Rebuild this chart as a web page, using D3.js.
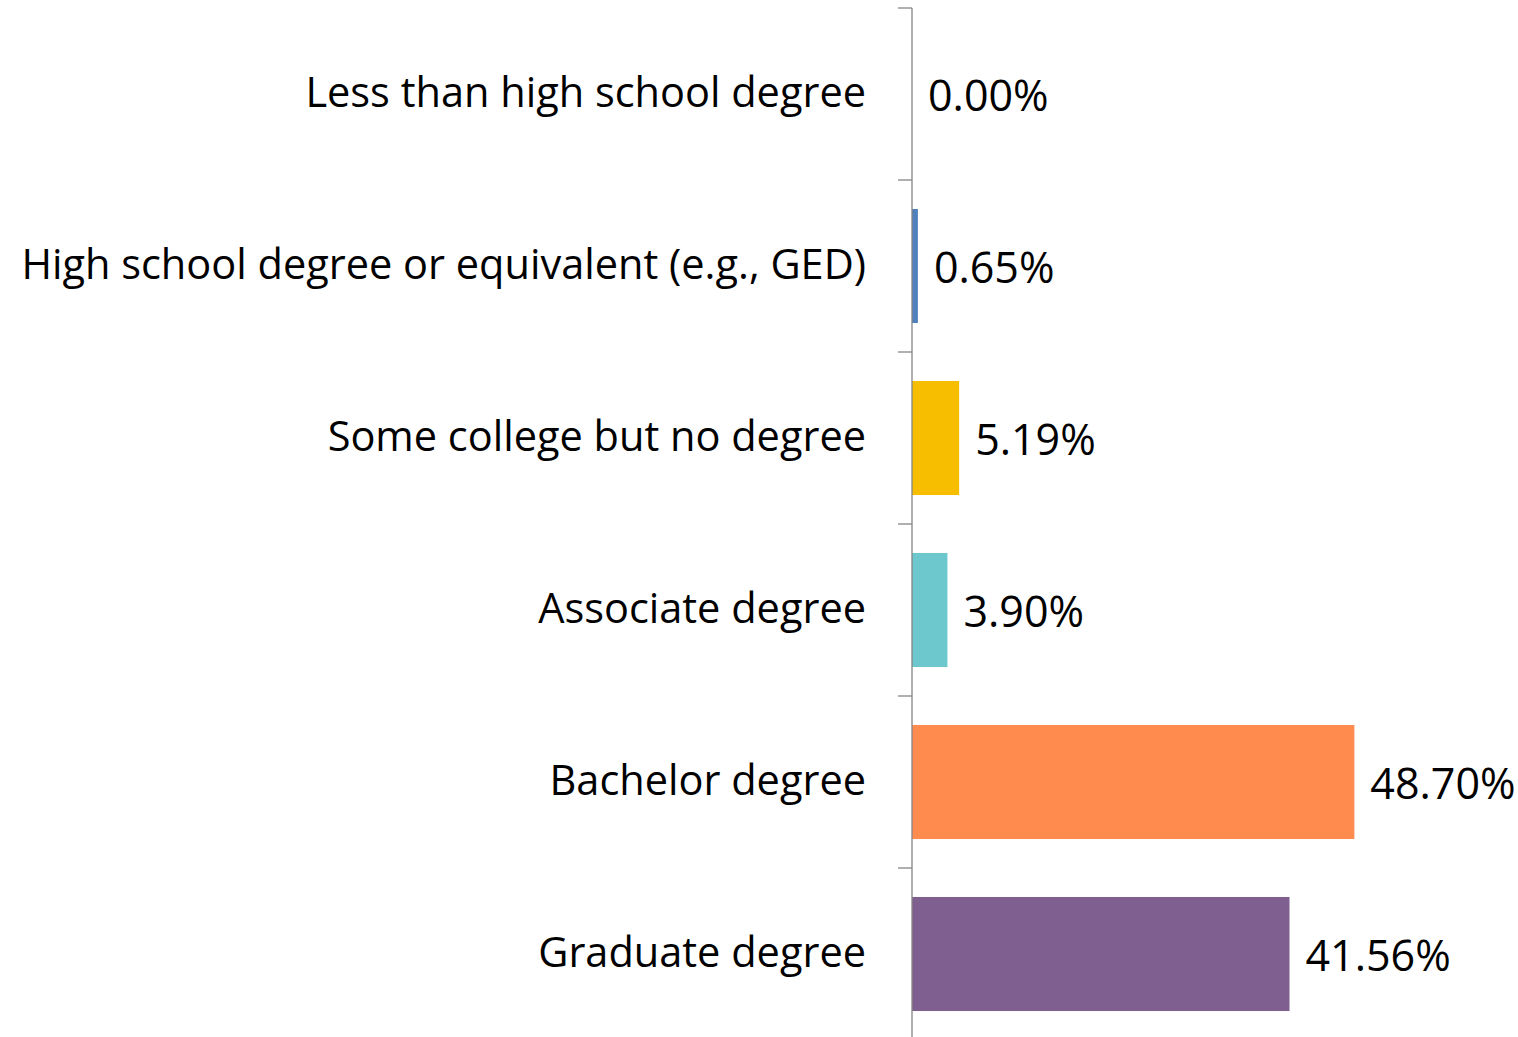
<!DOCTYPE html>
<html>
<head>
<meta charset="utf-8">
<script src="https://cdn.jsdelivr.net/npm/d3@7"></script>
<style>
  body { margin: 0; background: #fff; }
  text { font-family: "Open Sans", "Noto Sans", sans-serif; fill: #000; }
</style>
</head>
<body>
<div id="chart"></div>
<script>
// chart data
var categories = [
  "Less than high school degree",
  "High school degree or equivalent (e.g., GED)",
  "Some college but no degree",
  "Associate degree",
  "Bachelor degree",
  "Graduate degree"
];
var values = [0.00, 0.65, 5.19, 3.90, 48.70, 41.56];
var colors = ["#4F81BD", "#4F81BD", "#F7BE00", "#6CC8CD", "#FF8B4F", "#7F5F8F"];

var width = 1518, height = 1037;
var axisX = 912;

var svg = d3.select("#chart")
  .append("svg")
  .attr("width", width)
  .attr("height", height);

var xScale = d3.scaleLinear()
  .domain([0, 60])
  .range([axisX, axisX + 545]);

var yScale = d3.scaleBand()
  .domain(categories)
  .range([8, 1040])
  .paddingInner(0.337)
  .paddingOuter(0.337 / 2);

var step = yScale.step();

/* bars */
svg.selectAll("rect.bar")
  .data(values)
  .enter()
  .append("rect")
  .attr("class", "bar")
  .attr("x", xScale(0))
  .attr("y", function(d, i) { return yScale(categories[i]); })
  .attr("width", function(d) { return xScale(d) - xScale(0); })
  .attr("height", yScale.bandwidth())
  .attr("fill", function(d, i) { return colors[i]; });

/* axis line + tick marks between categories */
svg.append("line")
  .attr("x1", axisX).attr("x2", axisX)
  .attr("y1", 8).attr("y2", 1040)
  .attr("stroke", "#868686")
  .attr("stroke-width", 1.3);

svg.selectAll("line.tick")
  .data(d3.range(categories.length + 1))
  .enter()
  .append("line")
  .attr("class", "tick")
  .attr("x1", axisX - 14).attr("x2", axisX)
  .attr("y1", function(i) { return 8 + i * step; })
  .attr("y2", function(i) { return 8 + i * step; })
  .attr("stroke", "#868686")
  .attr("stroke-width", 1.3);

/* category labels */
svg.selectAll("text.cat")
  .data(categories)
  .enter()
  .append("text")
  .attr("class", "cat")
  .attr("x", 866)
  .attr("y", function(d) { return yScale(d) + yScale.bandwidth() / 2; })
  .attr("dy", "0.32em")
  .attr("text-anchor", "end")
  .style("font-size", "41.5px")
  .text(function(d) { return d; });

/* value labels */
svg.selectAll("text.val")
  .data(values)
  .enter()
  .append("text")
  .attr("class", "val")
  .attr("x", function(d) { return xScale(d) + 16; })
  .attr("y", function(d, i) { return yScale(categories[i]) + yScale.bandwidth() / 2 + 3; })
  .attr("dy", "0.32em")
  .style("font-size", "43px")
  .text(function(d) { return d.toFixed(2) + "%"; });
</script>
</body>
</html>
